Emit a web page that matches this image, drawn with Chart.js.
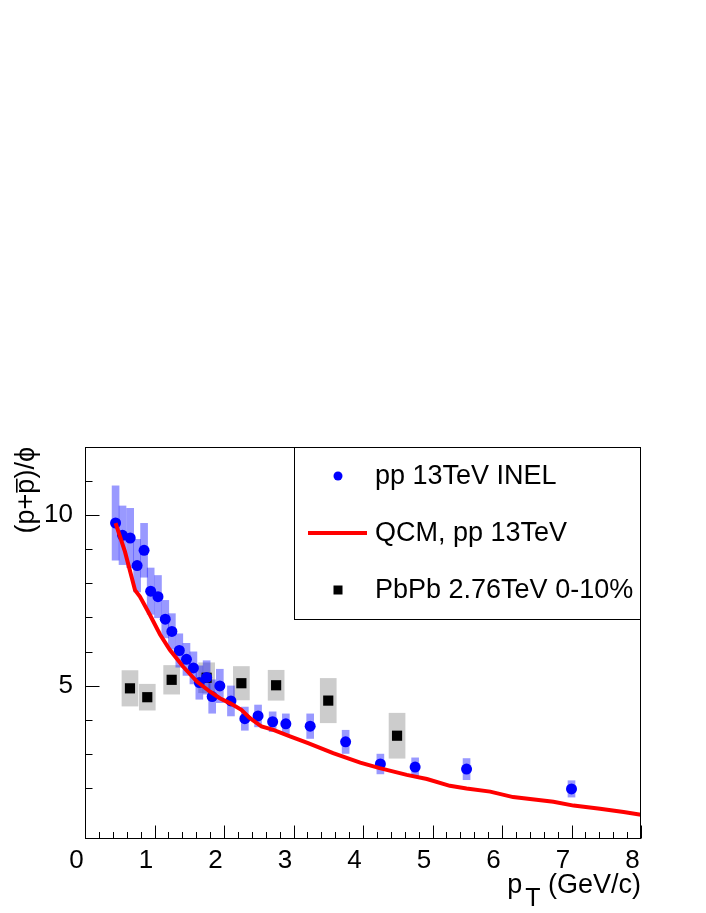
<!DOCTYPE html>
<html>
<head>
<meta charset="utf-8">
<script src="https://cdn.jsdelivr.net/npm/chart.js"></script>
<style>
  html, body { margin: 0; padding: 0; background: #fff; }
  canvas { display: block; }
</style>
</head>
<body>
<canvas id="chart" width="706" height="913"></canvas>
<script>
// pp 13 TeV INEL, (p+pbar)/phi
const ppX   = [0.44, 0.54, 0.65, 0.75, 0.85, 0.945, 1.05, 1.155, 1.25, 1.357, 1.46, 1.56, 1.645, 1.75, 1.83, 1.94, 2.10, 2.30, 2.49, 2.70, 2.89, 3.24, 3.75, 4.25, 4.75, 5.49, 7.00];
const ppY   = [9.77, 9.41, 9.33, 8.52, 8.97, 7.77, 7.61, 6.95, 6.59, 6.03, 5.77, 5.52, 5.09, 5.24, 4.68, 4.99, 4.55, 4.03, 4.11, 3.94, 3.88, 3.81, 3.35, 2.70, 2.61, 2.55, 1.97];
const ppSys = [1.10, 0.87, 0.88, 0.78, 0.80, 0.69, 0.63, 0.56, 0.53, 0.50, 0.48, 0.48, 0.50, 0.50, 0.50, 0.50, 0.45, 0.35, 0.33, 0.30, 0.30, 0.37, 0.35, 0.30, 0.28, 0.32, 0.25];

// PbPb 2.76 TeV 0-10%
const pbX   = [0.647, 0.896, 1.247, 1.75, 2.25, 2.75, 3.50, 4.49];
const pbY   = [4.92, 4.66, 5.17, 5.23, 5.07, 5.01, 4.56, 3.53];
const pbSys = [0.53, 0.39, 0.43, 0.45, 0.50, 0.45, 0.66, 0.67];

// QCM, pp 13 TeV
const qcmX = [0.44, 0.575, 0.72, 0.79, 0.935, 1.08, 1.22, 1.41, 1.61, 1.80, 1.94, 2.09, 2.25, 2.37, 2.54, 2.71, 2.95, 3.21, 3.57, 3.96, 4.24, 4.63, 4.92, 5.25, 5.49, 5.83, 6.16, 6.74, 7.03, 7.41, 7.75, 8.00];
const qcmY = [9.77, 8.93, 7.80, 7.61, 7.07, 6.50, 6.05, 5.56, 5.12, 4.82, 4.63, 4.48, 4.29, 4.05, 3.80, 3.70, 3.51, 3.31, 3.02, 2.74, 2.58, 2.38, 2.26, 2.06, 1.98, 1.89, 1.73, 1.59, 1.48, 1.39, 1.29, 1.21];

const legendLabels = ['pp 13TeV INEL', 'QCM, pp 13TeV', 'PbPb 2.76TeV 0-10%'];

const FONT = '"Liberation Sans", Arial, Helvetica, sans-serif';
const isInt = v => Math.abs(v - Math.round(v)) < 1e-6;

function pts(xs, ys) {
  return xs.map((x, i) => ({ x: x, y: ys[i] }));
}

// systematic boxes drawn under the markers
const boxPlugin = {
  id: 'sysBoxes',
  beforeDatasetsDraw(chart) {
    const ctx = chart.ctx, xs = chart.scales.x, ys = chart.scales.y;
    const drawBoxes = (X, Y, S, halfW, color) => {
      ctx.fillStyle = color;
      X.forEach((x, i) => {
        const l = xs.getPixelForValue(x - halfW), r = xs.getPixelForValue(x + halfW);
        const t = ys.getPixelForValue(Y[i] + S[i]), b = ys.getPixelForValue(Y[i] - S[i]);
        ctx.fillRect(l, t, r - l, b - t);
      });
    };
    ctx.save();
    drawBoxes(pbX, pbY, pbSys, 0.12, '#cccccc');
    drawBoxes(ppX, ppY, ppSys, 0.055, 'rgba(0,0,255,0.4)');
    ctx.restore();
  }
};

// frame, inward ticks, axis titles, legend
const framePlugin = {
  id: 'frame',
  afterDraw(chart) {
    const ctx = chart.ctx, a = chart.chartArea, xs = chart.scales.x, ys = chart.scales.y;
    ctx.save();
    ctx.strokeStyle = '#000';
    ctx.lineWidth = 1;
    const L = Math.round(a.left) + 0.5, R = Math.round(a.right) - 0.5;
    const T = Math.round(a.top) + 0.5, B = Math.round(a.bottom) - 0.5;
    ctx.strokeRect(L, T, R - L, B - T);

    ctx.beginPath();
    xs.ticks.forEach(t => {
      const px = Math.round(xs.getPixelForValue(t.value)) + 0.5;
      const len = isInt(t.value) ? 13 : 6.5;
      ctx.moveTo(px, B);
      ctx.lineTo(px, B - len);
    });
    ys.ticks.forEach(t => {
      if (!isInt(t.value)) return;
      const py = Math.round(ys.getPixelForValue(t.value)) + 0.5;
      const len = Math.round(t.value) % 5 === 0 ? 14 : 7;
      ctx.moveTo(L, py);
      ctx.lineTo(L + len, py);
    });
    ctx.stroke();

    // x title: p_T (GeV/c)
    ctx.fillStyle = '#000';
    ctx.textBaseline = 'alphabetic';
    ctx.textAlign = 'left';
    const big = '27px ' + FONT, sub = '25px ' + FONT;
    ctx.font = big;
    const wP = ctx.measureText('p').width;
    const wRest = ctx.measureText(' (GeV/c)').width;
    ctx.font = sub;
    const wT = ctx.measureText('T').width;
    let x0 = a.right - (wP + wT + wRest + 3);
    ctx.font = big;
    ctx.fillText('p', x0, 893);
    ctx.font = sub;
    ctx.fillText('T', x0 + wP + 3, 906);
    ctx.font = big;
    ctx.fillText(' (GeV/c)', x0 + wP + 3 + wT, 893);

    // y title: (p+pbar)/phi, rotated, ending at top of frame
    ctx.save();
    ctx.translate(34, a.top);
    ctx.rotate(-Math.PI / 2);
    ctx.font = '27px ' + FONT;
    const s1 = '(p+', s2 = 'p', s3 = ')/\u03D5';
    const w1 = ctx.measureText(s1).width, w2 = ctx.measureText(s2).width, w3 = ctx.measureText(s3).width;
    let u = -(w1 + w2 + w3);
    ctx.fillText(s1, u, 0);
    ctx.fillText(s2, u + w1, 0);
    ctx.fillRect(u + w1 + 1, -18, w2 - 1, 1.6);
    ctx.fillText(s3, u + w1 + w2, 0);
    ctx.restore();

    // legend box
    const lx = 294, ly = a.top, lr = a.right, lb = 619;
    ctx.strokeRect(lx + 0.5, T, lr - lx - 1, lb - ly);
    ctx.font = big;
    ctx.textBaseline = 'middle';
    const rows = [476, 533, 590];
    const tx = 375;
    // blue circle
    ctx.fillStyle = '#0000ff';
    ctx.beginPath();
    ctx.arc(338, rows[0], 4.5, 0, Math.PI * 2);
    ctx.fill();
    // red line
    ctx.strokeStyle = '#ff0000';
    ctx.lineWidth = 4;
    ctx.beginPath();
    ctx.moveTo(308, rows[1]);
    ctx.lineTo(367, rows[1]);
    ctx.stroke();
    // black square
    ctx.fillStyle = '#000';
    ctx.fillRect(333.5, rows[2] - 4.5, 9, 9);
    legendLabels.forEach((txt, i) => ctx.fillText(txt, tx, rows[i] + 1));
    ctx.restore();
  }
};

const ctx = document.getElementById('chart').getContext('2d');
new Chart(ctx, {
  type: 'scatter',
  data: {
    datasets: [
      {
        label: legendLabels[1],
        type: 'line',
        data: pts(qcmX, qcmY),
        borderColor: '#ff0000',
        borderWidth: 4,
        pointRadius: 0,
        tension: 0,
        fill: false,
        order: 0
      },
      {
        label: legendLabels[0],
        data: pts(ppX, ppY),
        backgroundColor: '#0000ff',
        borderColor: '#0000ff',
        borderWidth: 0,
        pointRadius: 5.5,
        order: 1
      },
      {
        label: legendLabels[2],
        data: pts(pbX, pbY),
        pointStyle: 'rect',
        backgroundColor: '#000',
        borderColor: '#000',
        borderWidth: 0,
        pointRadius: 7.2,
        order: 2
      }
    ]
  },
  options: {
    responsive: false,
    animation: false,
    layout: { padding: { top: 447, right: 65, left: 0, bottom: 0 } },
    plugins: { legend: { display: false }, tooltip: { enabled: false } },
    scales: {
      x: {
        type: 'linear',
        min: 0,
        max: 8,
        grid: { display: false },
        border: { display: false },
        ticks: {
          stepSize: 0.2,
          maxTicksLimit: 100,
          autoSkip: false,
          maxRotation: 0,
          padding: -2,
          labelOffset: -8.5,
          color: '#000',
          font: { family: FONT, size: 26 },
          callback: v => isInt(v) ? String(Math.round(v)) : ''
        },
        afterFit(s) { s.height = 74; }
      },
      y: {
        type: 'linear',
        min: 0.5,
        max: 12,
        grid: { display: false },
        border: { display: false },
        ticks: {
          stepSize: 1,
          maxTicksLimit: 100,
          autoSkip: false,
          padding: 4,
          color: '#000',
          font: { family: FONT, size: 26 },
          callback: v => (isInt(v) && Math.round(v) % 5 === 0) ? String(Math.round(v)) : ''
        },
        afterFit(s) { s.width = 85; }
      }
    }
  },
  plugins: [boxPlugin, framePlugin]
});
</script>
</body>
</html>
